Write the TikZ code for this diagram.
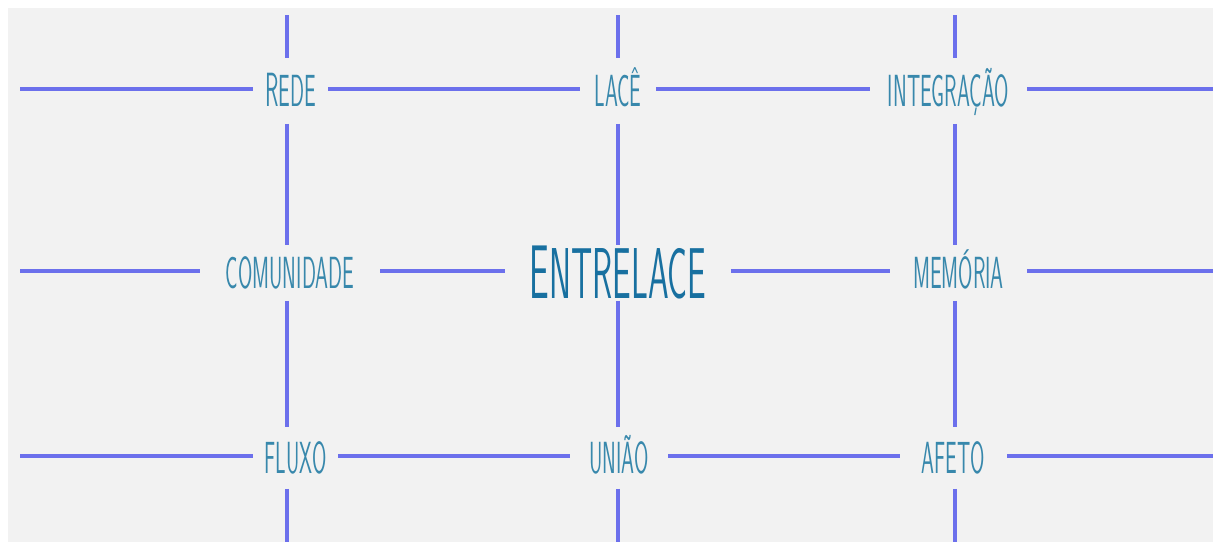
\documentclass[tikz,border=0pt]{standalone}
\usepackage{fontspec}
\usepackage{graphicx}
\definecolor{paper}{RGB}{242,242,242}
\definecolor{linec}{RGB}{108,112,236}
\definecolor{lblc}{RGB}{56,136,172}
\definecolor{titc}{RGB}{24,112,160}
\newcommand\nar[1]{\scalebox{0.46}[1]{#1}}
\tikzset{
  lbl/.style={inner sep=0pt, text=lblc, font=\sffamily\fontsize{22.5}{23}\selectfont,
    text height=15.5pt, text depth=0pt},
  toprow/.style={lbl, minimum height=32.5pt},
  midrow/.style={lbl, minimum height=27.5pt},
  botrow/.style={lbl, minimum height=30.5pt},
  ttl/.style={midrow, text=titc, font=\sffamily\fontsize{36}{38}\selectfont, text height=25pt},
  ln/.style={draw=linec, line width=2.2pt},
}
\begin{document}
\begin{tikzpicture}[x=0.5pt,y=-0.5pt]
\useasboundingbox (0,0) rectangle (1213,542);
\fill[white] (0,0) rectangle (1213,542);
\fill[paper] (8,8) rectangle (1213,542);
% nodes
\node[toprow, minimum width=37.5pt] (rede) at (290.5,91) {\nar{{\fontsize{24}{24}\selectfont R}EDE}};
\node[toprow, minimum width=38pt] (lace) at (618,91) {\nar{LACÊ}};
\node[toprow, minimum width=78.5pt] (integ) at (948.5,91) {\nar{INTEGRAÇÃO}};
\node[midrow, minimum width=90pt] (comun) at (290,273) {\nar{COMUNIDADE}};
\node[ttl, minimum width=112.5pt] (entre) at (618,273) {\nar{{\fontsize{38}{38}\selectfont E}NTRELACE}};
\node[midrow, minimum width=68.5pt] (memo) at (958.5,273) {\nar{MEMÓRIA}};
\node[botrow, minimum width=42.5pt] (fluxo) at (295.5,458) {\nar{FLUXO}};
\node[botrow, minimum width=49pt] (uniao) at (619,458) {\nar{UNIÃO}};
\node[botrow, minimum width=53.5pt] (afeto) at (953.5,458) {\nar{AFETO}};
% free ends
\coordinate (c1) at (287,15);
\coordinate (c2) at (618,15);
\coordinate (c3) at (955,15);
\coordinate (c1b) at (287,542);
\coordinate (c2b) at (618,542);
\coordinate (c3b) at (955,542);
\coordinate (l1) at (20,89);
\coordinate (l2) at (20,271);
\coordinate (l3) at (20,456);
\coordinate (r1) at (1213,89);
\coordinate (r2) at (1213,271);
\coordinate (r3) at (1213,456);
% horizontal lines
\draw[ln] (l1) -- (l1 -| rede.west);
\draw[ln] (l1 -| rede.east) -- (l1 -| lace.west);
\draw[ln] (l1 -| lace.east) -- (l1 -| integ.west);
\draw[ln] (l1 -| integ.east) -- (r1);
\draw[ln] (l2) -- (l2 -| comun.west);
\draw[ln] (l2 -| comun.east) -- (l2 -| entre.west);
\draw[ln] (l2 -| entre.east) -- (l2 -| memo.west);
\draw[ln] (l2 -| memo.east) -- (r2);
\draw[ln] (l3) -- (l3 -| fluxo.west);
\draw[ln] (l3 -| fluxo.east) -- (l3 -| uniao.west);
\draw[ln] (l3 -| uniao.east) -- (l3 -| afeto.west);
\draw[ln] (l3 -| afeto.east) -- (r3);
% vertical lines
\draw[ln] (c1) -- (c1 |- rede.north);
\draw[ln] (c1 |- rede.south) -- (c1 |- comun.north);
\draw[ln] (c1 |- comun.south) -- (c1 |- fluxo.north);
\draw[ln] (c1 |- fluxo.south) -- (c1b);
\draw[ln] (c2) -- (c2 |- lace.north);
\draw[ln] (c2 |- lace.south) -- (c2 |- entre.north);
\draw[ln] (c2 |- entre.south) -- (c2 |- uniao.north);
\draw[ln] (c2 |- uniao.south) -- (c2b);
\draw[ln] (c3) -- (c3 |- integ.north);
\draw[ln] (c3 |- integ.south) -- (c3 |- memo.north);
\draw[ln] (c3 |- memo.south) -- (c3 |- afeto.north);
\draw[ln] (c3 |- afeto.south) -- (c3b);
\end{tikzpicture}
\end{document}
